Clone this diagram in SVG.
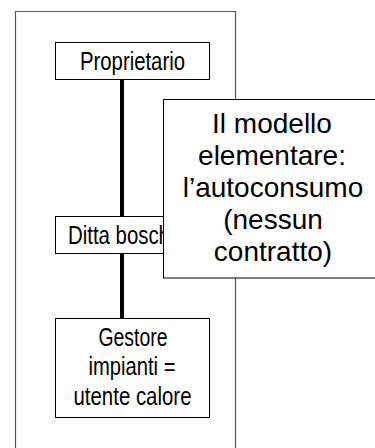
<svg xmlns="http://www.w3.org/2000/svg" width="375" height="448" viewBox="0 0 375 448">
<style>
.box{fill:#fff;stroke:#000;stroke-width:1}
.t{font-family:"Liberation Sans",Arial,sans-serif;font-size:25px;fill:#000;text-anchor:middle}
.big{font-family:"Liberation Sans",Arial,sans-serif;font-size:28px;fill:#000;text-anchor:middle}
</style>
<rect x="0" y="0" width="375" height="448" fill="#fff"/>
<g id="frame">
<path d="M15.5 460 V11.5 H235.5 V460" fill="none" stroke="#555" stroke-width="1.2"/>
</g>
<g id="connectors">
<line x1="122" y1="79" x2="122" y2="318" stroke="#000" stroke-width="4"/>
</g>
<g id="proprietario">
<rect class="box" x="55.5" y="42.5" width="154" height="37"/>
<text class="t" x="132.5" y="69.5" textLength="105" lengthAdjust="spacingAndGlyphs">Proprietario</text>
</g>
<g id="ditta">
<rect class="box" x="55.5" y="216.5" width="154" height="37"/>
<text class="t" x="132" y="243.5" textLength="128" lengthAdjust="spacingAndGlyphs">Ditta boschiva</text>
</g>
<g id="gestore">
<rect class="box" x="55.5" y="318.5" width="154" height="99"/>
<text class="t" x="133" y="346" textLength="69" lengthAdjust="spacingAndGlyphs">Gestore</text>
<text class="t" x="132" y="375" textLength="87" lengthAdjust="spacingAndGlyphs">impianti =</text>
<text class="t" x="132.5" y="405" textLength="118" lengthAdjust="spacingAndGlyphs">utente calore</text>
</g>
<g id="modello">
<rect class="box" x="163.5" y="99.5" width="230" height="178.5"/>
<text class="big" x="272" y="133">Il modello</text>
<text class="big" x="272" y="165">elementare:</text>
<text class="big" x="273" y="197">l’autoconsumo</text>
<text class="big" x="273" y="229">(nessun</text>
<text class="big" x="273" y="261">contratto)</text>
</g>
</svg>
